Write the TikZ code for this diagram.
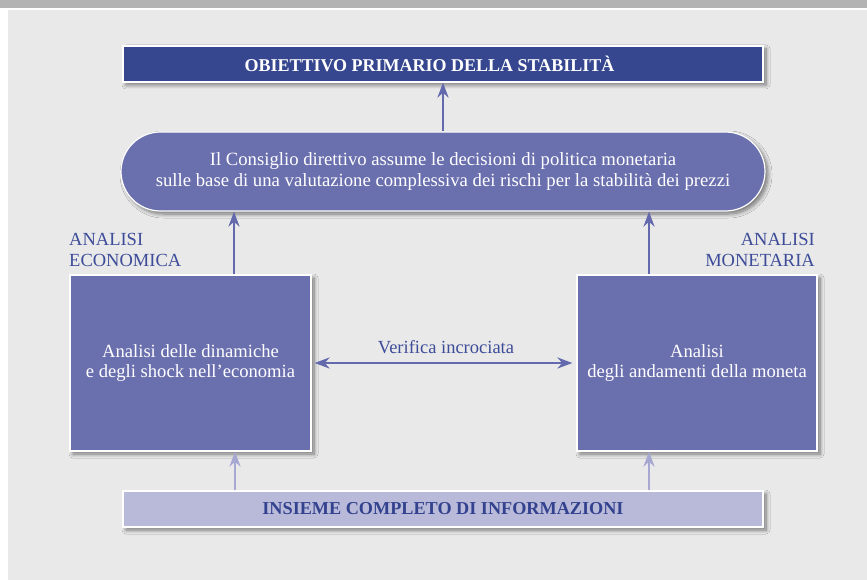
\documentclass[tikz,border=0pt]{standalone}
\usepackage{fontspec}
\setmainfont{Liberation Serif}
\usetikzlibrary{arrows.meta,shadows.blur,calc}
\definecolor{topgray}{HTML}{B3B3B3}
\definecolor{bggray}{HTML}{E9E9E9}
\definecolor{darkblue}{HTML}{37478F}
\definecolor{midblue}{HTML}{6A6FAE}
\definecolor{arrowblue}{HTML}{6468AC}
\definecolor{lightblue}{HTML}{B9BAD9}
\definecolor{lightarrow}{HTML}{A6A8D2}
\definecolor{lblblue}{HTML}{3D4C99}
\definecolor{bottext}{HTML}{33428F}
\begin{document}
\begin{tikzpicture}[x=1pt,y=-1pt,
  shade box/.style={blur shadow={shadow xshift=3pt,shadow yshift=-3pt,shadow blur steps=8,shadow opacity=50,shadow blur radius=4pt}},
  basebox/.style={draw=white,line width=1.2pt,inner sep=0pt,align=center,shade box},
  topbox/.style={basebox,fill=darkblue,text=white,font=\fontsize{18}{21}\selectfont\bfseries},
  roundbox/.style={basebox,fill=midblue,text=white,rounded corners=39.5pt,font=\fontsize{18.7}{20.5}\selectfont},
  sqbox/.style={basebox,fill=midblue,text=white,font=\fontsize{18.6}{20}\selectfont},
  botbox/.style={basebox,fill=lightblue,text=bottext,font=\fontsize{18.2}{21}\selectfont\bfseries},
  lbl/.style={inner sep=0pt,text=lblblue,font=\fontsize{18.5}{21}\selectfont},
  arr/.style={draw=arrowblue,line width=2.6pt,-{Stealth[length=15pt,width=11pt]}},
  larr/.style={draw=lightarrow,line width=2.6pt,-{Stealth[length=15pt,width=11pt]}},
  darr/.style={draw=arrowblue,line width=2.6pt,{Stealth[length=15pt,width=11pt]}-{Stealth[length=15pt,width=11pt]}}
]
\useasboundingbox (0,0) rectangle (867,580);
\fill[topgray] (0,0) rectangle (867,8);
\fill[white] (0,8) rectangle (867,580);
\fill[bggray] (8,10.5) rectangle (867,580);

\node[topbox,minimum width=640pt,minimum height=36pt] (T) at (443,64) {OBIETTIVO PRIMARIO DELLA STABILITÀ\hspace*{27pt}};
\node[roundbox,minimum width=644pt,minimum height=79pt] (C) at (443,171.5)
  {Il Consiglio direttivo assume le decisioni di politica monetaria\\sulle base di una valutazione complessiva dei rischi per la stabilità dei prezzi};
\node[sqbox,minimum width=241pt,minimum height=176pt] (L) at (190.5,363) {Analisi delle dinamiche\\e degli shock nell’economia};
\node[sqbox,minimum width=240pt,minimum height=176pt] (R) at (697,363) {Analisi\\degli andamenti della moneta};
\node[botbox,minimum width=640pt,minimum height=36pt] (B) at (443,509) {INSIEME COMPLETO DI INFORMAZIONI};

\node[lbl,anchor=north west,align=left] (LE) at (69,233) {ANALISI\\ECONOMICA};
\node[lbl,anchor=north east,align=right] (LM) at (815,233) {ANALISI\\MONETARIA};
\node[lbl,anchor=base] (V) at (446,353) {Verifica incrociata};

\draw[arr] (C.north) -- (T.south);
\draw[arr] ([xshift=43.5pt]L.north) -- ([xshift=43.5pt]L.north |- C.south);
\draw[arr] ([xshift=-48pt]R.north) -- ([xshift=-48pt]R.north |- C.south);
\draw[larr] ([xshift=44.5pt]L.south |- B.north) -- ([xshift=44.5pt]L.south);
\draw[larr] ([xshift=-48pt]R.south |- B.north) -- ([xshift=-48pt]R.south);
\draw[darr,shorten <=3pt,shorten >=4pt] (L.east) -- (R.west);
\end{tikzpicture}
\end{document}
